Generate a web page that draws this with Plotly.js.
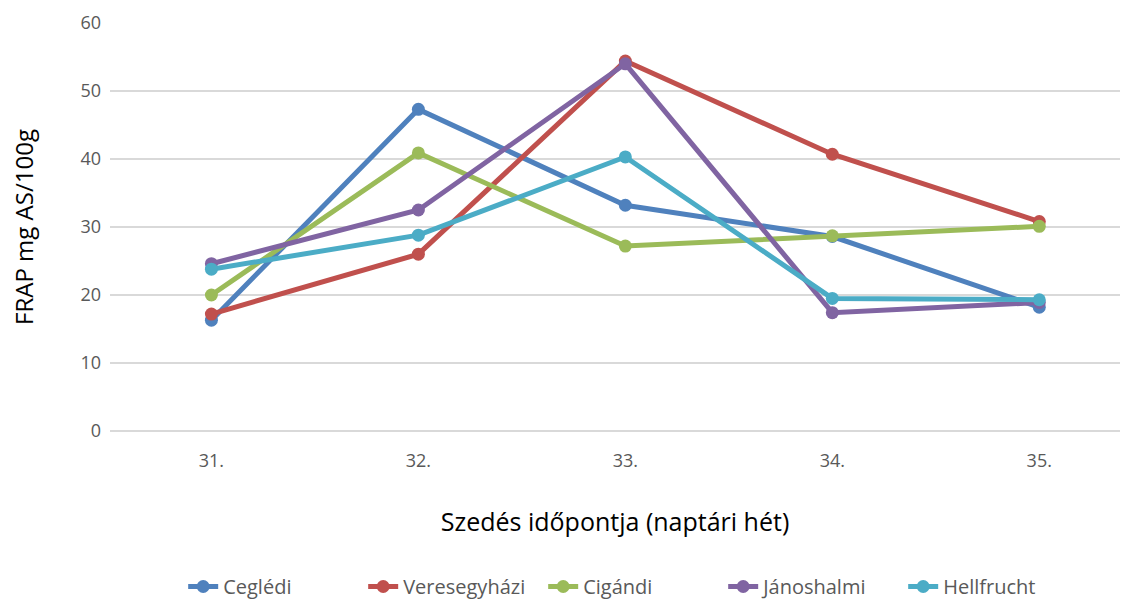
<!DOCTYPE html>
<html><head><meta charset="utf-8">
<script src="https://cdn.plot.ly/plotly-3.0.1.min.js"></script>
<style>html,body{margin:0;padding:0;background:#fff}</style>
</head><body>
<div id="chart" style="width:1122px;height:606px"></div>
<script>
const weeks = ["31.", "32.", "33.", "34.", "35."];
const names = ["Ceglédi", "Veresegyházi", "Cigándi", "Jánoshalmi", "Hellfrucht"];
const colors = ["#4f81bd", "#c0504d", "#9bbb59", "#8064a2", "#4bacc6"];
const cegledi = [16.3, 47.3, 33.2, 28.6, 18.2];
const veresegyhazi = [17.2, 26.0, 54.4, 40.7, 30.8];
const cigandi = [20.0, 40.9, 27.2, 28.7, 30.1];
const janoshalmi = [24.6, 32.5, 54.0, 17.4, 18.9];
const hellfrucht = [23.8, 28.8, 40.3, 19.5, 19.3];
const series = [cegledi, veresegyhazi, cigandi, janoshalmi, hellfrucht];

const traces = series.map((vals, i) => ({
  x: weeks, y: vals, name: names[i], type: 'scatter', mode: 'lines+markers',
  line: {color: colors[i], width: 5},
  marker: {color: colors[i], size: 13}
}));

const font = "'Open Sans', 'Noto Sans', sans-serif";
const layout = {
  width: 1122, height: 606,
  margin: {l: 110, r: 2, t: 23, b: 175},
  paper_bgcolor: '#fff', plot_bgcolor: '#fff',
  font: {family: font, color: '#595959', size: 18},
  xaxis: {
    type: 'category', range: [-0.49, 4.39],
    showgrid: false, zeroline: false, showline: false,
    ticks: '', ticklabelstandoff: 17, tickfont: {size: 18, color: '#595959'},
    title: {text: 'Szedés időpontja (naptári hét)', font: {size: 25, color: '#000'}, standoff: 42}
  },
  yaxis: {
    range: [0, 60], dtick: 10,
    showgrid: true, gridcolor: '#d9d9d9', gridwidth: 1.3,
    zeroline: true, zerolinecolor: '#d9d9d9', zerolinewidth: 1.3,
    showline: false, ticks: '', ticklabelstandoff: 8,
    tickfont: {size: 18, color: '#595959'},
    title: {text: 'FRAP mg AS/100g', font: {size: 24, color: '#000'}, standoff: 40}
  },
  showlegend: true,
  legend: {
    orientation: 'h', x: 0.518, xanchor: 'center', xref: 'paper',
    y: 0, yref: 'container', yanchor: 'bottom',
    font: {size: 20, color: '#595959'},
    entrywidth: 135, entrywidthmode: 'pixels',
    tracegroupgap: 0
  }
};

Plotly.newPlot('chart', traces, layout, {displayModeBar: false, staticPlot: true});
</script>
</body></html>
